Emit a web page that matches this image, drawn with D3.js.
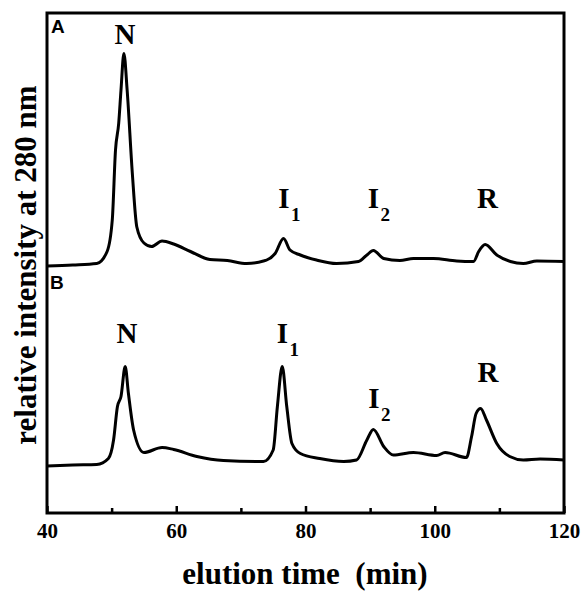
<!DOCTYPE html>
<html>
<head>
<meta charset="utf-8">
<script src="https://cdn.jsdelivr.net/npm/d3@7"></script>
<style>
  body { margin: 0; background: #fff; }
  .serif { font-family: "Liberation Serif", "Times New Roman", serif; font-weight: bold; }
  .sans { font-family: "Liberation Sans", Arial, sans-serif; font-weight: bold; }
</style>
</head>
<body>
<svg width="582" height="592"></svg>
<script>
// elution time (min) and relative intensity, panel A
var timeA = [40, 44, 47.7, 49.3, 50.1, 50.6, 51.1, 51.45, 51.9, 52.4, 53.2, 53.9, 55.0, 56.2, 57.8, 59.6,
             62.2, 65.2, 67.9, 70.9, 73.5, 74.0, 75.3, 76.6, 77.6, 79.2, 81.7, 84.8, 88.2, 89.5, 90.5,
             92.1, 94.6, 96.7, 99.8, 103.4, 106.0, 106.8, 107.8, 109.6, 111.7, 113.7, 115.8, 120];
var valA  = [49.4, 49.6, 49.9, 52.3, 58.6, 72.6, 78.0, 84.6, 91.9, 84.6, 68.0, 57.2, 54.0, 53.3, 54.4, 53.8,
             52.3, 50.7, 50.5, 49.9, 50.4, 50.6, 51.9, 54.9, 52.6, 51.6, 50.6, 49.9, 50.3, 51.6, 52.5,
             50.9, 50.5, 50.9, 50.9, 50.4, 50.3, 52.3, 53.7, 51.6, 50.3, 49.9, 50.4, 50.3];

// panel B
var timeB = [40, 44, 47.7, 49.5, 50.3, 50.9, 51.45, 52.1, 52.6, 53.4, 55.0, 57.8, 59.6, 63.2, 67.3, 73.5,
             75.0, 75.65, 76.4, 77.1, 77.9, 79.2, 82.2, 85.9, 87.9, 89.5, 90.5, 92.1, 93.6, 96.7, 100.3,
             101.6, 104.9, 105.7, 106.4, 107.1, 108.0, 109.6, 111.6, 113.7, 116.3, 120];
var valB  = [9.4, 9.6, 9.7, 10.9, 14.6, 21.3, 23.3, 29.3, 23.9, 16.6, 12.1, 13.1, 12.7, 11.3, 10.5, 10.3,
             12.6, 21.3, 29.3, 21.3, 13.9, 11.9, 10.9, 10.3, 10.6, 14.6, 16.7, 13.3, 11.6, 12.1, 11.5,
             12.1, 11.1, 15.3, 19.9, 20.9, 18.6, 13.9, 11.3, 10.6, 10.8, 10.6];

// peak labels: name, subscript, time, label height
var peakNames = ["N", "I", "I", "R"];
var peakSubs  = ["", "1", "2", ""];
var peakTimeA = [52.07, 76.67, 90.52, 108.16];
var peakLabA  = [93.8, 61, 61, 61];
var peakTimeB = [52.38, 76.44, 90.6, 108.24];
var peakLabB  = [34, 34, 21, 26.2];

var xTicks = [40, 60, 80, 100, 120],
    xMinor = [50, 70, 90, 110];

var svg = d3.select("svg"),
    margin = {top: 13, right: 18, bottom: 79, left: 47},
    w = +svg.attr("width") - margin.left - margin.right,
    h = +svg.attr("height") - margin.top - margin.bottom;

var x = d3.scaleLinear().domain([40, 120]).range([0, w]),
    y = d3.scaleLinear().domain([0, 100]).range([h, 0]);

var g = svg.append("g")
    .attr("transform", "translate(" + margin.left + "," + margin.top + ")");

var line = d3.line()
    .curve(d3.curveMonotoneX)
    .x(function(d) { return x(d[0]); })
    .y(function(d) { return y(d[1]); });

//traces
[[timeA, valA], [timeB, valB]].forEach(function(s) {
  g.append("path")
    .datum(d3.zip(s[0], s[1]))
    .attr("fill", "none")
    .attr("stroke", "#000")
    .attr("stroke-width", 3)
    .attr("stroke-linejoin", "round")
    .attr("d", line);
});

//x axis with inward ticks
var xAxis = d3.axisBottom(x).tickValues(xTicks).tickSizeInner(-7).tickSizeOuter(0).tickPadding(10);
var ax = g.append("g")
    .attr("transform", "translate(0," + h + ")")
    .call(xAxis);
ax.select(".domain").remove();
ax.selectAll("line").attr("stroke", "#000").attr("stroke-width", 2.5);
ax.selectAll("text")
    .attr("class", "serif")
    .style("font-size", "21px")
    .attr("fill", "#000");

g.append("g")
  .attr("transform", "translate(0," + h + ")")
  .call(d3.axisBottom(x).tickValues(xMinor).tickSizeInner(-5).tickSizeOuter(0).tickFormat(""))
  .call(function(a) { a.select(".domain").remove(); })
  .selectAll("line").attr("stroke", "#000").attr("stroke-width", 2.5);

//frame
g.append("rect")
    .attr("width", w)
    .attr("height", h)
    .attr("fill", "none")
    .attr("stroke", "#000")
    .attr("stroke-width", 3);

//peak labels
function addLabels(times, labs) {
  peakNames.forEach(function(n, i) {
    var px = x(times[i]), py = y(labs[i]);
    g.append("text")
      .attr("class", "serif")
      .attr("x", px)
      .attr("y", py)
      .attr("text-anchor", "middle")
      .style("font-size", "29px")
      .text(n);
    if (peakSubs[i]) {
      g.append("text")
        .attr("class", "serif")
        .attr("x", px + 7)
        .attr("y", py + 13)
        .style("font-size", "19px")
        .text(peakSubs[i]);
    }
  });
}
addLabels(peakTimeA, peakLabA);
addLabels(peakTimeB, peakLabB);

//panel letters
g.append("text").attr("class", "sans").attr("x", 4).attr("y", 20)
  .style("font-size", "19px").text("A");
g.append("text").attr("class", "sans").attr("x", 3).attr("y", 276)
  .style("font-size", "19px").text("B");

//axis titles
svg.append("text")
    .attr("class", "serif")
    .attr("x", 305)
    .attr("y", 584)
    .attr("text-anchor", "middle")
    .style("font-size", "31px")
    .style("white-space", "pre")
    .text("elution time  (min)");

svg.append("text")
    .attr("class", "serif")
    .attr("transform", "translate(36,265) rotate(-90)")
    .attr("text-anchor", "middle")
    .style("font-size", "31px")
    .text("relative intensity at 280 nm");
</script>
</body>
</html>
